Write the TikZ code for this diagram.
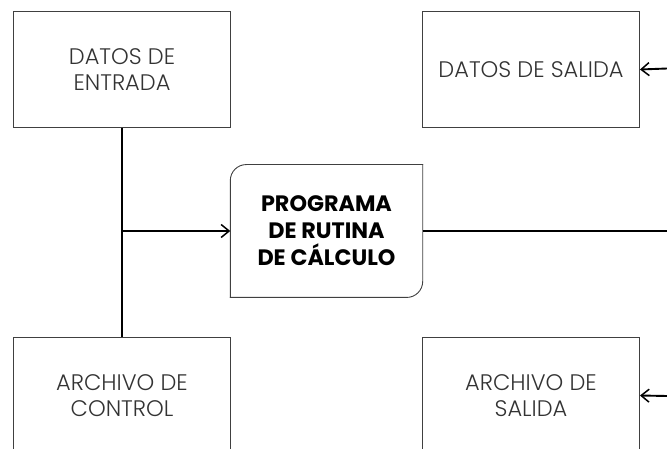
\documentclass[tikz,border=0pt]{standalone}
\usepackage{fontspec}
\setmainfont{Poppins}[UprightFont=* Light, BoldFont=* Bold]
\usetikzlibrary{arrows.meta}
\definecolor{txt}{HTML}{333333}
\definecolor{edge}{HTML}{404040}
\tikzset{
  box/.style={draw=edge, line width=0.9pt, minimum width=217pt, minimum height=116pt,
    inner sep=0pt, align=center, text=txt, font=\fontsize{22.5}{26}\selectfont},
  core/.style={minimum width=192pt, minimum height=132.5pt, inner sep=0pt, align=center,
    font=\fontsize{22.3}{27}\selectfont\bfseries},
  link/.style={line width=1.9pt, black},
  arr/.style={link, -{Straight Barb[length=8pt,width=13pt,line width=1.5pt]}},
}
\begin{document}
\begin{tikzpicture}[x=1pt,y=-1pt]
\useasboundingbox (0,0) rectangle (667,449);
\clip (0,0) rectangle (667,449);
\node[box] (din) at (122,69.5) {DATOS DE\\ENTRADA};
\node[box] (dout) at (531,69.5) {DATOS DE SALIDA};
\node[box] (ctl) at (122,395.5) {ARCHIVO DE\\CONTROL};
\node[box] (aout) at (531,395.5) {ARCHIVO DE\\SALIDA};
\node[core] (prog) at (326.5,231) {PROGRAMA\\DE RUTINA\\DE CÁLCULO};
\draw[draw=edge, line width=0.9pt, line cap=rect, rounded corners=16pt]
  (prog.north east) -- (prog.south east) -- (prog.south west);
\draw[draw=edge, line width=0.9pt, line cap=rect, rounded corners=16pt]
  (prog.south west) -- (prog.north west) -- (prog.north east);
\coordinate (j) at (din.south |- prog.west);
\coordinate (rmid) at (667,231);
\coordinate (rtop) at (667,68.5);
\coordinate (rbot) at (667,396);
\draw[link] (din.south) -- (ctl.north);
\draw[arr] (j) -- (prog.west);
\draw[link] (prog.east) -- (rmid);
\draw[arr] (rtop) -- (dout.east);
\draw[arr] (rbot) -- (aout.east);
\end{tikzpicture}
\end{document}
